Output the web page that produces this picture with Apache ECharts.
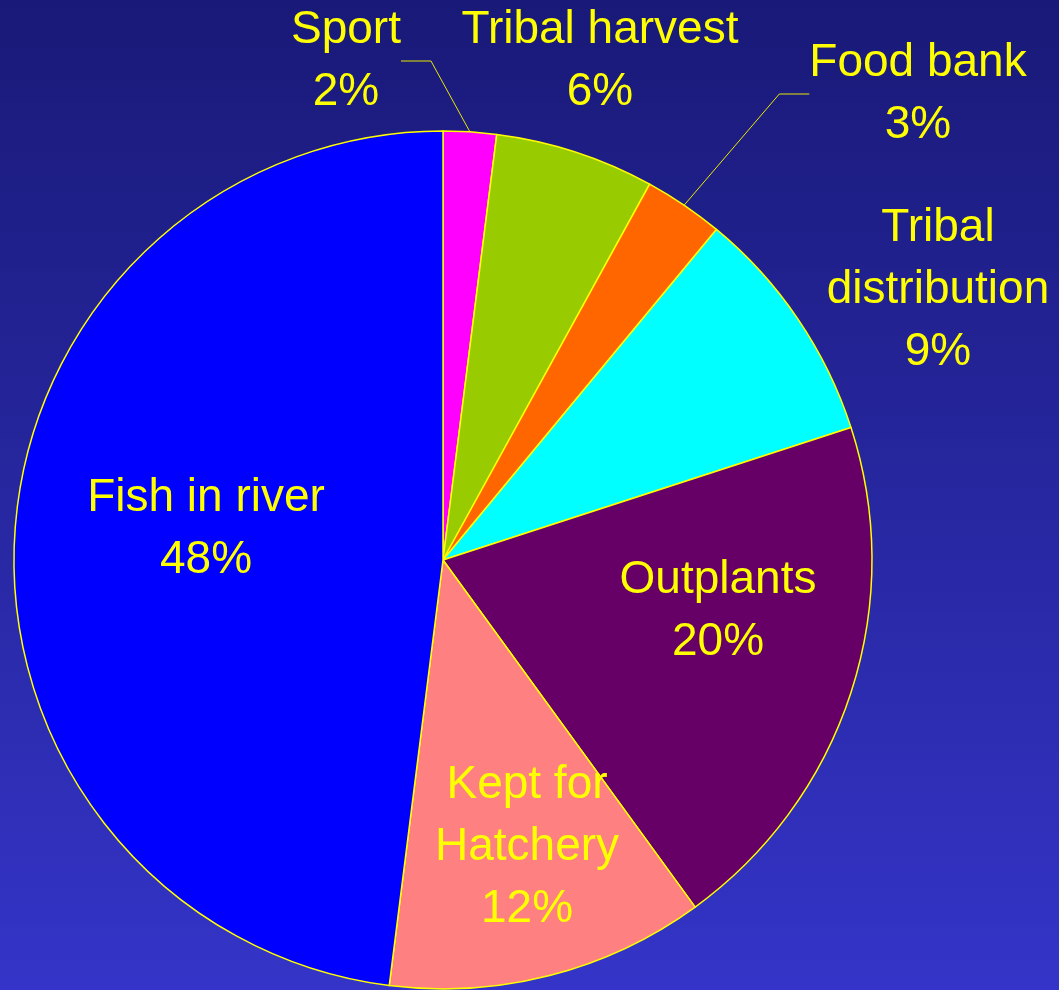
<!DOCTYPE html>
<html>
<head>
<meta charset="utf-8">
<script src="https://cdn.jsdelivr.net/npm/echarts@6/dist/echarts.min.js"></script>
<style>
  html, body { margin: 0; padding: 0; }
  #chart { width: 1059px; height: 990px; }
</style>
</head>
<body>
<div id="chart"></div>
<script>
// Share of returning fish by disposition (percent)
const categories = ['Sport', 'Tribal harvest', 'Food bank', 'Tribal\ndistribution', 'Outplants', 'Kept for\nHatchery', 'Fish in river'];
const shares = [2, 6, 3, 9, 20, 12, 48];
const sliceColors = ['#FF00FF', '#99CC00', '#FF6600', '#00FFFF', '#660066', '#FF8080', '#0000FF'];
// Slices whose label sits away from the pie and gets a leader line
const withLeader = ['Sport', 'Food bank'];

// Where each label block is centred on the page
const labelAnchor = {
  'Sport': [346, 61],
  'Tribal harvest': [600, 61],
  'Food bank': [918, 94],
  'Tribal\ndistribution': [938, 290],
  'Outplants': [718, 611],
  'Kept for\nHatchery': [527, 847],
  'Fish in river': [206, 529]
};

const chart = echarts.init(document.getElementById('chart'), null, { renderer: 'canvas' });

chart.setOption({
  backgroundColor: {
    type: 'linear', x: 0, y: 0, x2: 0, y2: 1,
    colorStops: [
      { offset: 0, color: '#191978' },
      { offset: 1, color: '#3434c8' }
    ]
  },
  animation: false,
  series: [{
    type: 'pie',
    center: [443, 560],
    radius: 429,
    startAngle: 90,
    clockwise: true,
    avoidLabelOverlap: false,
    itemStyle: { borderColor: '#FFFF00', borderWidth: 1.5 },
    label: {
      show: true,
      formatter: '{b}\n{d}%',
      color: '#FFFF00',
      fontFamily: '"Liberation Sans", Arial, sans-serif',
      fontSize: 46,
      lineHeight: 62,
      align: 'center'
    },
    labelLine: { show: false },
    labelLayout: function (params) {
      const name = categories[params.dataIndex];
      const p = labelAnchor[name];
      return { x: p[0], y: p[1], align: 'center', verticalAlign: 'middle' };
    },
    emphasis: { disabled: true },
    data: categories.map((name, i) => ({
      name: name,
      value: shares[i],
      itemStyle: { color: sliceColors[i] },
      labelLine: withLeader.includes(name)
        ? { show: true, lineStyle: { color: '#E8E800', width: 1 } }
        : { show: false }
    }))
  }]
});
</script>
</body>
</html>
